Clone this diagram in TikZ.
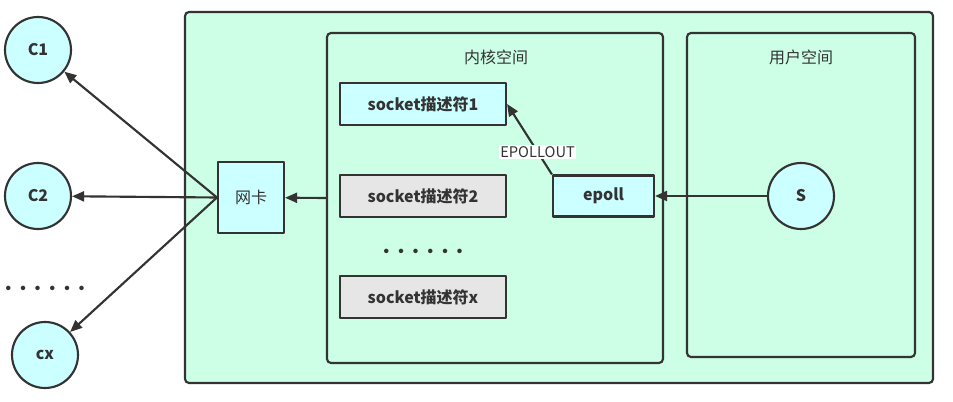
\documentclass[tikz,border=0pt]{standalone}
\usepackage{fontspec}
\setmainfont{Noto Sans CJK SC}
\usetikzlibrary{arrows.meta}
\definecolor{mint}{HTML}{CCFFE6}
\definecolor{cyanfill}{HTML}{CCFFFF}
\definecolor{greyfill}{HTML}{E6E6E6}
\definecolor{ink}{HTML}{333333}
\newcommand{\sixdots}{\foreach \k in {1,...,6}{\makebox[11pt]{·}}}
\begin{document}
\begin{tikzpicture}[x=0.75pt,y=-0.75pt,line join=round,>={Triangle[length=9pt,width=7.5pt]},font=\fontsize{12}{14}\selectfont]
			\tikzset{every node/.style={text=ink},
				area/.style={draw=ink,line width=1.6pt,fill=mint,rounded corners=3pt},
				desc/.style={draw=ink,line width=1.6pt,minimum width=124.5pt,minimum height=32pt,font=\fontsize{12}{14}\selectfont\bfseries},
				client/.style={circle,draw=ink,line width=1.6pt,fill=cyanfill,minimum size=49.5pt,inner sep=0pt,font=\fontsize{12}{14}\selectfont\bfseries},
				link/.style={->,draw=ink,line width=1.6pt},
				dotrow/.style={inner sep=0pt,font=\fontsize{12}{14}\selectfont\bfseries}}
			\useasboundingbox (0,0) rectangle (953,402);
			% machine, kernel space, user space
			\draw[area] (185,12) rectangle (933,383);
			\draw[area] (327,33) rectangle (663,363);
			\draw[area] (687,33) rectangle (915,357);
			\node (kernel) at (496,57) {内核空间};
			\node (user) at (801,57) {用户空间};
			% kernel nodes
			\node[desc,fill=cyanfill] (sock1) at (423,104) {socket描述符1};
			\node[desc,fill=greyfill] (sock2) at (423,196) {socket描述符2};
			\node[dotrow] (dotsk) at (423,253) {\sixdots};
			\node[desc,fill=greyfill] (sockx) at (423,297) {socket描述符x};
			\node[desc,fill=cyanfill,minimum width=75.75pt,minimum height=30.75pt] (epoll) at (603.5,196) {epoll};
			\node[client] (s) at (801,196) {S};
			% network card and clients
			\node[desc,fill=cyanfill,minimum width=49.5pt,minimum height=53.25pt,font=\fontsize{12}{14}\selectfont] (nic) at (251,197.5) {网卡};
			\node[client] (c1) at (38,50) {C1};
			\node[client] (c2) at (38,196) {C2};
			\node[dotrow] (dotsc) at (45,290) {\sixdots};
			\node[client] (cx) at (45,355) {cx};
			\coordinate (kin) at (327,198);
			% connectors
			\draw[link] (s) -- (epoll);
			\draw[link] (epoll.north west) -- (sock1.east) node[pos=0.32,fill=white,inner sep=1pt,font=\fontsize{11}{13}\selectfont] (out) {EPOLLOUT};
			\draw[link] (kin) -- (nic);
			\draw[link] (nic.west) -- (c1);
			\draw[link] (nic.west) -- (c2);
			\draw[link] (nic.west) -- (cx);
		\end{tikzpicture}
\end{document}
